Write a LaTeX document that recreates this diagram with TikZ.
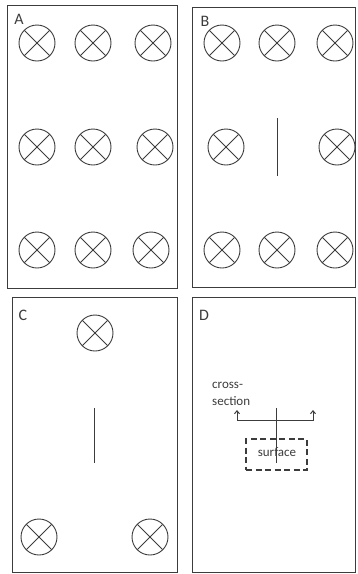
\documentclass[tikz,border=0pt]{standalone}
\usepackage{fontspec}
\setmainfont{Carlito}
\usetikzlibrary{arrows.meta}
\definecolor{ink}{RGB}{60,60,60}
\begin{document}
\begin{tikzpicture}[x=1pt,y=-1pt,
  panel/.style={draw=ink,line width=1pt},
  xcirc/.style={circle,draw=ink,line width=0.9pt,minimum size=36pt,inner sep=0pt,
    path picture={\draw[ink,line width=0.8pt] (path picture bounding box.south west) ++(5.3pt,5.3pt) -- ++(25.4pt,25.4pt);
                  \draw[ink,line width=0.8pt] (path picture bounding box.north west) ++(5.3pt,-5.3pt) -- ++(25.4pt,-25.4pt);}},
  lbl/.style={font=\fontsize{16}{16}\selectfont,text=ink,inner sep=0pt},
  small/.style={font=\fontsize{13}{17}\selectfont,text=ink,inner sep=0pt,align=left},
  wire/.style={draw=ink,line width=1pt}]
\useasboundingbox (0,0) rectangle (357,574);
% panels
\draw[panel] (7,5) rectangle (177,288);
\draw[panel] (192,7) rectangle (355,287);
\draw[panel] (12,297) rectangle (177,572);
\draw[panel] (192,297) rectangle (355,572);
% labels
\node[lbl] (la) at (19,19) {A};
\node[lbl] (lb) at (205,21) {B};
\node[lbl] (lc) at (23,315) {C};
\node[lbl] (ld) at (204,315) {D};
% A circles
\node[xcirc] (a1) at (37,43) {};
\node[xcirc] (a2) at (93,43) {};
\node[xcirc] (a3) at (153,43) {};
\node[xcirc] (a4) at (37,147) {};
\node[xcirc] (a5) at (93,147) {};
\node[xcirc] (a6) at (155,147) {};
\node[xcirc] (a7) at (37,250) {};
\node[xcirc] (a8) at (93,250) {};
\node[xcirc] (a9) at (151,250) {};
% B circles
\node[xcirc] (b1) at (222,43) {};
\node[xcirc] (b2) at (277,43) {};
\node[xcirc] (b3) at (335,43) {};
\node[xcirc] (b4) at (226,147) {};
\node[xcirc] (b6) at (337,147) {};
\node[xcirc] (b7) at (222,250) {};
\node[xcirc] (b8) at (277,250) {};
\node[xcirc] (b9) at (335,250) {};
\coordinate (bt) at (277,118);
\coordinate (bb) at (277,176);
\draw[wire] (bt) -- (bb);
% C circles
\node[xcirc] (c1) at (95,333) {};
\node[xcirc] (c2) at (39,537) {};
\node[xcirc] (c3) at (150,537) {};
\coordinate (ct) at (94,408);
\coordinate (cb) at (94,463);
\draw[wire] (ct) -- (cb);
% D
\node[small,anchor=north west] (cs) at (212,382) {cross-\\section};
\node[draw=ink,dash pattern=on 6pt off 3.5pt,line width=1.3pt,minimum width=61pt,minimum height=31pt,inner sep=0pt] (surf) at (276.5,454.5) {};
\node[small] (st) at (277,452) {surface};
\coordinate (dl) at (237,410);
\coordinate (dr) at (313,410);
\coordinate (dlc) at (237,420);
\coordinate (drc) at (313,420);
\coordinate (dt) at (276,408);
\coordinate (db) at (276,463);
\draw[wire,{Straight Barb[length=3pt,width=5pt]}-{Straight Barb[length=3pt,width=5pt]}] (dl) -- (dlc) -- (drc) -- (dr);
\draw[wire] (dt) -- (db);
\end{tikzpicture}
\end{document}
